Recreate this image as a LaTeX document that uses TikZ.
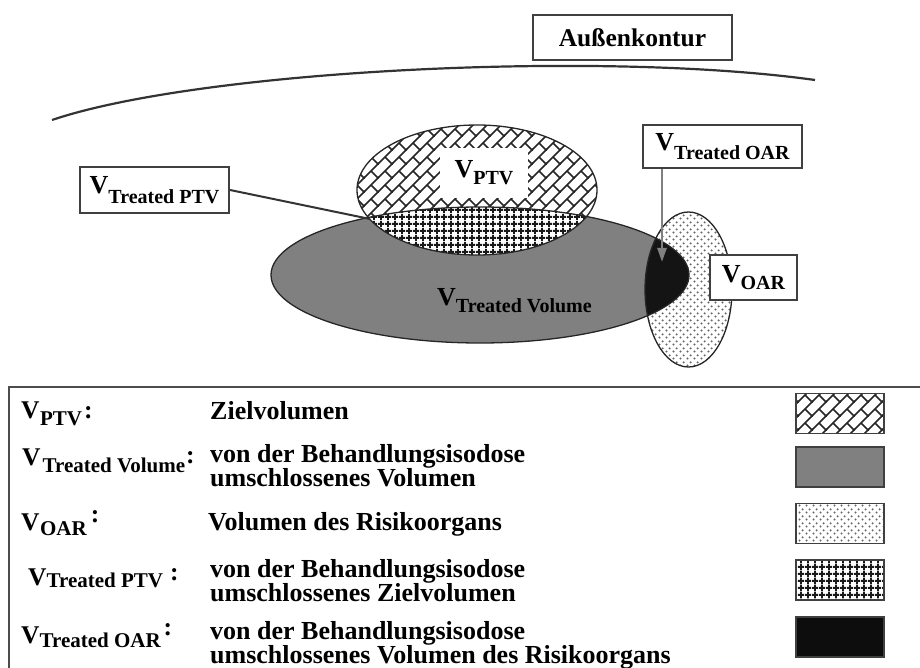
\documentclass[tikz,border=0pt]{standalone}
\usepackage{fontspec}
\setmainfont{Liberation Serif}
\usetikzlibrary{patterns,arrows.meta}

\pgfdeclarepatternformonly{diagbrick}{\pgfpoint{-1pt}{-1pt}}{\pgfpoint{15pt}{15pt}}{\pgfpoint{14pt}{14pt}}{%
  \pgfsetlinewidth{1.5pt}\pgfsetroundcap
  \pgfpathmoveto{\pgfpoint{-1pt}{-1pt}}\pgfpathlineto{\pgfpoint{15pt}{15pt}}%
  \pgfpathmoveto{\pgfpoint{14pt}{0pt}}\pgfpathlineto{\pgfpoint{7pt}{7pt}}%
  \pgfusepath{stroke}}
\pgfdeclarepatternformonly{smallgrid}{\pgfpointorigin}{\pgfpoint{7pt}{7pt}}{\pgfpoint{7pt}{7pt}}{%
  \pgfsetlinewidth{2pt}%
  \pgfpathmoveto{\pgfpoint{0pt}{3.5pt}}\pgfpathlineto{\pgfpoint{7pt}{3.5pt}}%
  \pgfpathmoveto{\pgfpoint{3.5pt}{0pt}}\pgfpathlineto{\pgfpoint{3.5pt}{7pt}}%
  \pgfusepath{stroke}}
\pgfdeclarepatternformonly{stagdots}{\pgfpointorigin}{\pgfpoint{7pt}{7pt}}{\pgfpoint{7pt}{7pt}}{%
  \pgfpathcircle{\pgfpoint{1.75pt}{1.75pt}}{1.25pt}%
  \pgfpathcircle{\pgfpoint{5.25pt}{5.25pt}}{1.25pt}%
  \pgfusepath{fill}}

\newcommand{\Vsub}[2]{V\lower#1pt\hbox{\fontsize{20}{20}\selectfont #2}}
\newcommand{\Vleg}[5]{V\kern#1pt\lower#2pt\hbox{\fontsize{21}{21}\selectfont #3}\kern#4pt\raise#5pt\hbox{:}}

\begin{document}
\begin{tikzpicture}[x=1pt,y=-1pt,
  lbl/.style={draw=black!75, line width=2pt, fill=white, inner sep=0pt,
    font=\fontsize{26}{26}\selectfont\bfseries},
  freelbl/.style={inner sep=0pt, font=\fontsize{26}{26}\selectfont\bfseries},
  outl/.style={draw=black!85, line width=1.3pt},
  contour/.style={draw=black!80, line width=2.2pt},
  leader/.style={draw=black!80, line width=2pt},
  gleader/.style={draw=black!50, line width=2.5pt, -{Triangle[length=14pt,width=9pt]}},
  swatch/.style={draw=black!75, line width=1.6pt, minimum width=88pt, minimum height=40pt, inner sep=0pt},
  legtext/.style={anchor=base west, inner sep=0pt, font=\fontsize{26}{26}\selectfont\bfseries},
  leglab/.style={anchor=base west, inner sep=0pt, font=\fontsize{25.5}{25.5}\selectfont\bfseries}]
\useasboundingbox (0,0) rectangle (920,668);
\clip (0,0) rectangle (920,668);

% outer contour
\node[lbl, minimum width=199pt, minimum height=45pt, font=\fontsize{25.5}{25.5}\selectfont\bfseries] (auss) at (632.5,37.5) {Außenkontur};
\draw[contour] (52,120) .. controls (200,70) and (600,50) .. (815,80);

% treated volume (gray)
\fill[black!50] (480,275) ellipse [x radius=209pt, y radius=68pt];
% PTV
\fill[white] (477,190) ellipse [x radius=120pt, y radius=65pt];
\fill[pattern=diagbrick, pattern color=black!85] (477,190) ellipse [x radius=120pt, y radius=65pt];
% treated PTV
\begin{scope}
  \clip (480,275) ellipse [x radius=209pt, y radius=68pt];
  \fill[white] (477,190) ellipse [x radius=120pt, y radius=65pt];
  \fill[pattern=smallgrid, pattern color=black!90] (477,190) ellipse [x radius=120pt, y radius=65pt];
\end{scope}
% OAR
\fill[white] (688.5,289.5) ellipse [x radius=43.5pt, y radius=77.5pt];
\fill[pattern=stagdots, pattern color=black!60] (688.5,289.5) ellipse [x radius=43.5pt, y radius=77.5pt];
% treated OAR
\begin{scope}
  \clip (480,275) ellipse [x radius=209pt, y radius=68pt];
  \fill[black!92] (688.5,289.5) ellipse [x radius=43.5pt, y radius=77.5pt];
\end{scope}
% outlines
\draw[outl] (480,275) ellipse [x radius=209pt, y radius=68pt];
\draw[outl] (477,190) ellipse [x radius=120pt, y radius=65pt];
\draw[outl] (688.5,289.5) ellipse [x radius=43.5pt, y radius=77.5pt];

% labels in the diagram
\node[freelbl, fill=white, minimum width=88pt, minimum height=50pt] (vptv) at (484,173) {\Vsub{7}{PTV}};
\node[freelbl, anchor=base west] (vtv) at (437,305) {\Vsub{7}{Treated Volume}};
\node[lbl, minimum width=149pt, minimum height=46pt] (tptv) at (154.5,190) {\Vsub{10}{Treated PTV}};
\node[lbl, minimum width=159pt, minimum height=43pt] (toar) at (722.5,146.5) {\Vsub{9}{Treated OAR}};
\node[lbl, minimum width=87pt, minimum height=45pt] (voar) at (753.5,277.5) {\Vsub{7}{OAR}};

\coordinate (tpvpt) at (370,219);
\coordinate (toartip) at (662,262);
\draw[leader] (tptv.east) -- (tpvpt);
\draw[gleader] (toar.south -| toartip) -- (toartip);

% legend
\draw[draw=black!70, line width=2.5pt] (9,387) rectangle (940,700);

\node[leglab] (l1) at (21,418) {\Vleg{0.5}{7}{PTV}{2}{0}};
\node[leglab] (l2) at (22,465) {\Vleg{2}{7}{Treated Volume}{1}{2}};
\node[leglab] (l3) at (21,530) {\Vleg{0.5}{5}{OAR}{4}{8}};
\node[leglab] (l4) at (28,585) {\Vleg{0}{2}{Treated PTV}{7}{5}};
\node[leglab] (l5) at (21,643) {\Vleg{0}{4}{Treated OAR}{3}{8}};

\node[legtext] (d1) at (210,419) {Zielvolumen};
\node[legtext] (d2a) at (210,462) {von der Behandlungsisodose};
\node[legtext] (d2b) at (210,486) {umschlossenes Volumen};
\node[legtext] (d3) at (208,530) {Volumen des Risikoorgans};
\node[legtext] (d4a) at (210,577) {von der Behandlungsisodose};
\node[legtext] (d4b) at (210,601) {umschlossenes Zielvolumen};
\node[legtext] (d5a) at (210,639) {von der Behandlungsisodose};
\node[legtext] (d5b) at (210,663) {umschlossenes Volumen des Risikoorgans};

\node[swatch, preaction={fill=white}, pattern=diagbrick, pattern color=black!85] (s1) at (840,413.5) {};
\node[swatch, fill=black!50] (s2) at (840,467) {};
\node[swatch, preaction={fill=white}, pattern=stagdots, pattern color=black!60] (s3) at (840,523.5) {};
\node[swatch, preaction={fill=white}, pattern=smallgrid, pattern color=black!90] (s4) at (840,580) {};
\node[swatch, fill=black!95] (s5) at (840,637) {};
\end{tikzpicture}
\end{document}
